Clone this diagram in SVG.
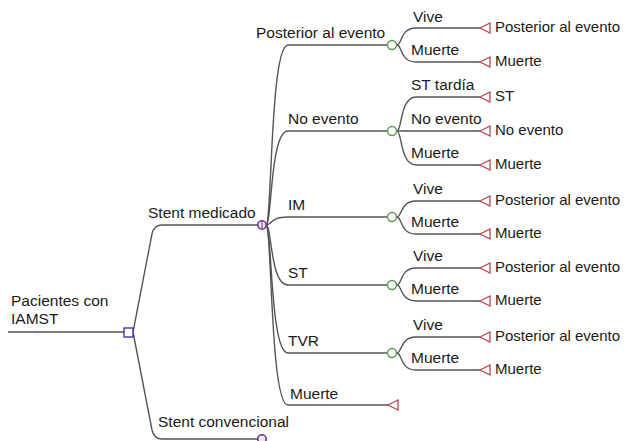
<svg xmlns="http://www.w3.org/2000/svg" width="629" height="441" viewBox="0 0 629 441">
<defs>
<style>
text{font-family:"Liberation Sans",Arial,sans-serif;font-size:15.5px;fill:#1a1a1a}
text.t{font-size:15px}
.ln{fill:none;stroke:#555;stroke-width:1.4}
.ch{fill:#fff;stroke:#5d9a4e;stroke-width:1.4}
.tm{fill:#fff;stroke:#b8474d;stroke-width:1.3}
.mk{fill:#efe6f5;stroke:#6b3592;stroke-width:1.6}
.dc{fill:#fff;stroke:#3a3aa8;stroke-width:1.4}
</style>
<polygon id="tri" points="0,0 10,-5 10,5"/>
</defs>
<g id="connectors">
<path class="ln" d="M8,332 L124,332"/>
<path class="ln" d="M133,332 L152,234 Q154,225 162,225 L258,225"/>
<path class="ln" d="M133,332 L152,430 Q154,439 162,439 L258,439"/>
<path class="ln" d="M266,225 C272,225 270,45 288,45 L387,45"/>
<path class="ln" d="M266,225 C272,225 270,131 288,131 L387,131"/>
<path class="ln" d="M266,225 C272,225 270,217 288,217 L387,217"/>
<path class="ln" d="M266,225 C272,225 270,285 288,285 L387,285"/>
<path class="ln" d="M266,225 C272,225 270,353 288,353 L387,353"/>
<path class="ln" d="M266,225 C272,225 270,405 288,405 L388,405"/>
<path class="ln" d="M397,45 C402,45 400,28 416,28 L480,28"/>
<path class="ln" d="M397,45 C402,45 400,62 416,62 L480,62"/>
<path class="ln" d="M397,131 C402,131 400,97 416,97 L480,97"/>
<path class="ln" d="M397,131 L480,131"/>
<path class="ln" d="M397,131 C402,131 400,165 416,165 L480,165"/>
<path class="ln" d="M397,217 C402,217 400,201 416,201 L480,201"/>
<path class="ln" d="M397,217 C402,217 400,234 416,234 L480,234"/>
<path class="ln" d="M397,285 C402,285 400,268 416,268 L480,268"/>
<path class="ln" d="M397,285 C402,285 400,301 416,301 L480,301"/>
<path class="ln" d="M397,353 C402,353 400,337 416,337 L480,337"/>
<path class="ln" d="M397,353 C402,353 400,370 416,370 L480,370"/>
</g>
<g id="root"><rect class="dc" x="124" y="328" width="9" height="9"/><text x="11" y="306">Pacientes con</text><text x="11" y="324">IAMST</text></g>
<g id="stent-medicado"><circle class="mk" cx="262" cy="225" r="4.2"/><path d="M262,221.5 L262,228.5" stroke="#6b3592" stroke-width="1"/><text x="148" y="218">Stent medicado</text></g>
<g id="stent-convencional"><circle class="mk" cx="262" cy="439" r="4.2"/><text x="158" y="427">Stent convencional</text></g>
<g id="posterior"><circle class="ch" cx="392" cy="45" r="4.5"/><text x="256" y="38">Posterior al evento</text></g>
<g id="noevento"><circle class="ch" cx="392" cy="131" r="4.5"/><text x="288" y="124">No evento</text></g>
<g id="im"><circle class="ch" cx="392" cy="217" r="4.5"/><text x="288" y="210">IM</text></g>
<g id="st"><circle class="ch" cx="392" cy="285" r="4.5"/><text x="288" y="278">ST</text></g>
<g id="tvr"><circle class="ch" cx="392" cy="353" r="4.5"/><text x="288" y="346">TVR</text></g>
<g id="muerte1"><use href="#tri" class="tm" x="388" y="405"/><text x="290" y="399">Muerte</text></g>
<g id="p-vive"><use href="#tri" class="tm" x="480" y="28"/><text x="413" y="22">Vive</text><text class="t" x="495" y="32">Posterior al evento</text></g>
<g id="p-muerte"><use href="#tri" class="tm" x="480" y="62"/><text x="411" y="55">Muerte</text><text class="t" x="495" y="66">Muerte</text></g>
<g id="n-st"><use href="#tri" class="tm" x="480" y="97"/><text x="411" y="90">ST tardía</text><text class="t" x="495" y="101">ST</text></g>
<g id="n-no"><use href="#tri" class="tm" x="480" y="131"/><text x="411" y="124">No evento</text><text class="t" x="495" y="135">No evento</text></g>
<g id="n-muerte"><use href="#tri" class="tm" x="480" y="165"/><text x="411" y="158">Muerte</text><text class="t" x="495" y="169">Muerte</text></g>
<g id="im-vive"><use href="#tri" class="tm" x="480" y="201"/><text x="413" y="194">Vive</text><text class="t" x="495" y="205">Posterior al evento</text></g>
<g id="im-muerte"><use href="#tri" class="tm" x="480" y="234"/><text x="411" y="227">Muerte</text><text class="t" x="495" y="238">Muerte</text></g>
<g id="st-vive"><use href="#tri" class="tm" x="480" y="268"/><text x="413" y="261">Vive</text><text class="t" x="495" y="272">Posterior al evento</text></g>
<g id="st-muerte"><use href="#tri" class="tm" x="480" y="301"/><text x="411" y="294">Muerte</text><text class="t" x="495" y="305">Muerte</text></g>
<g id="tvr-vive"><use href="#tri" class="tm" x="480" y="337"/><text x="413" y="330">Vive</text><text class="t" x="495" y="341">Posterior al evento</text></g>
<g id="tvr-muerte"><use href="#tri" class="tm" x="480" y="370"/><text x="411" y="363">Muerte</text><text class="t" x="495" y="374">Muerte</text></g>
</svg>
